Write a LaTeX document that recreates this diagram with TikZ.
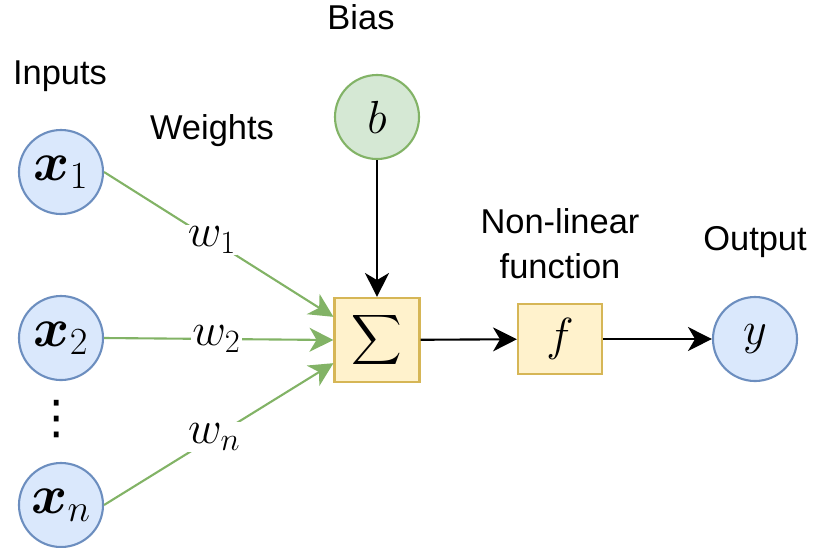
\RequirePackage{fix-cm}
\documentclass[tikz,border=0pt]{standalone}
\usepackage{amsmath}
\usepackage{fontspec}
\setmainfont{Liberation Sans}
\newfontfamily\symfont{DejaVu Sans}
\usetikzlibrary{arrows.meta}

\definecolor{inblue}{HTML}{DAE8FC}
\definecolor{inblueline}{HTML}{6C8EBF}
\definecolor{biasgreen}{HTML}{D5E8D4}
\definecolor{biasline}{HTML}{82B366}
\definecolor{opyellow}{HTML}{FFF2CC}
\definecolor{opline}{HTML}{D6B656}

\tikzset{
  neuron/.style={circle, draw=inblueline, fill=inblue, line width=1.5pt,
                 minimum size=2.1cm, inner sep=0pt},
  biasnode/.style={neuron, draw=biasline, fill=biasgreen},
  opbox/.style={rectangle, draw=opline, fill=opyellow, line width=1.5pt,
                inner sep=0pt},
  wedge/.style={draw=biasline, line width=1.5pt,
                -{Stealth[length=17pt,width=17pt,inset=5pt]}},
  flow/.style={draw=black, line width=1.5pt,
               -{Stealth[length=17pt,width=17pt,inset=5pt]}},
  wlab/.style={fill=white, inner sep=1pt, font=\mathsz},
  caption/.style={inner sep=0pt, font=\txtsz, align=center}
}
\newcommand{\mathsz}{\fontsize{33}{40}\selectfont}
\newcommand{\inputsz}{\fontsize{39}{45}\selectfont}
\newcommand{\txtsz}{\fontsize{24.5}{32}\selectfont}

\begin{document}
\begin{tikzpicture}[x=0.025cm, y=-0.025cm]
  \useasboundingbox (0,0) rectangle (814,547);

  % inputs
  \node[neuron, font=\inputsz] (x1) at (61,172) {$\boldsymbol{x}_1$};
  \node[neuron, font=\inputsz] (x2) at (61,338) {$\boldsymbol{x}_2$};
  \node[neuron, font=\inputsz] (xn) at (61,505) {$\boldsymbol{x}_n$};
  \node[inner sep=0pt, font=\symfont\fontsize{33}{40}\selectfont] (dots)
       at (57,419) {⋮};

  % bias, sum, activation, output
  \node[biasnode, font=\mathsz] (b) at (377,117) {$b$};
  \node[opbox, minimum width=2.125cm, minimum height=2.1cm, font=\mathsz]
       (sum) at (377,340) {$\displaystyle\sum$};
  \node[opbox, minimum width=2.1cm, minimum height=1.75cm, font=\mathsz]
       (f) at (560,339) {$f$};
  \node[neuron, font=\mathsz] (y) at (755,339) {$y$};

  % weighted inputs
  \draw[wedge] (x1.east) -- node[wlab, pos=0.47] {$w_1$} (sum.152);
  \draw[wedge] (x2.east) -- node[wlab, pos=0.49] {$w_2$} (sum.west);
  \draw[wedge] (xn.east) -- node[wlab, pos=0.48] {$w_n$} (sum.208);

  % bias and forward path
  \draw[flow] (b) -- (sum);
  \draw[flow] (sum) -- (f);
  \draw[flow] (f) -- (y);

  % captions
  \node[caption] (inlab) at (60,76) {Inputs};
  \node[caption] (wlabel) at (212,131) {Weights};
  \node[caption] (blab) at (361,17) {Bias};
  \node[caption] (flab) at (560,244) {Non-linear\\function};
  \node[caption] (ylab) at (755,242) {Output};
\end{tikzpicture}
\end{document}
